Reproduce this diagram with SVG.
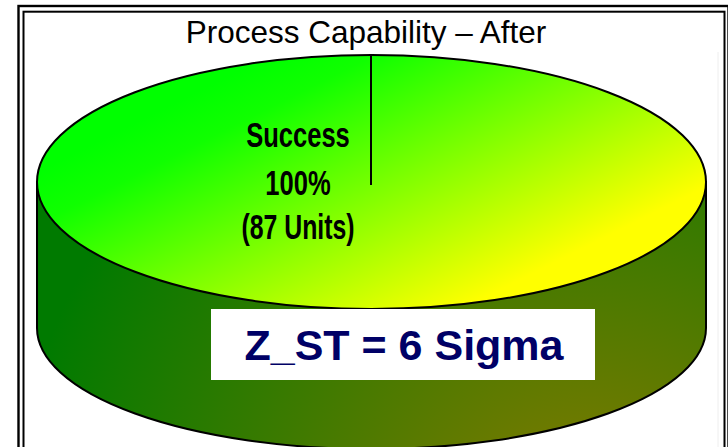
<svg xmlns="http://www.w3.org/2000/svg" width="728" height="447" viewBox="0 0 728 447">
  <style>
    .frame { fill: none; stroke: #000; }
    .outline { stroke: #000; stroke-width: 2; }
    .title { font-family: "Liberation Sans", Arial, sans-serif; font-size: 31.5px; fill: #000; }
    .lbl { font-family: "Liberation Sans", Arial, sans-serif; font-size: 35px; font-weight: bold; fill: #000; }
    .big { font-family: "Liberation Sans", Arial, sans-serif; font-size: 43px; font-weight: bold; fill: #000066; }
  </style>
  <defs>
    <linearGradient id="topGrad" gradientUnits="userSpaceOnUse" x1="300" y1="40" x2="440" y2="320">
      <stop offset="0" stop-color="#00ff00"/>
      <stop offset="0.15" stop-color="#10ff00"/>
      <stop offset="1" stop-color="#ffff00"/>
    </linearGradient>
    <radialGradient id="sideGrad" gradientUnits="userSpaceOnUse" cx="590" cy="550" r="580">
      <stop offset="0" stop-color="#8a7a00"/>
      <stop offset="1" stop-color="#007a00"/>
    </radialGradient>
  </defs>

  <rect x="0" y="0" width="728" height="447" fill="#fff"/>

  <g id="frame">
    <rect class="frame" x="18.5" y="6" width="710" height="460" stroke-width="2.4"/>
    <rect class="frame" x="23.5" y="11.7" width="701" height="450" stroke-width="2"/>
    <line x1="718" y1="52" x2="718" y2="447" stroke="#eeeeee" stroke-width="1"/>
  </g>

  <g id="title">
    <text class="title" x="366" y="42.5" text-anchor="middle">Process Capability – After</text>
  </g>

  <g id="pie">
    <path class="outline" fill="url(#sideGrad)" d="M37,182 L37,328 A334.5,121 0 0 0 706,328 L706,182 Z"/>
    <ellipse class="outline" fill="url(#topGrad)" cx="371.5" cy="182" rx="334.5" ry="127"/>
  </g>

  <g id="connectors">
    <line x1="371" y1="55" x2="371" y2="185" stroke="#000" stroke-width="2"/>
  </g>

  <g id="slice-label">
    <text class="lbl" text-anchor="middle" transform="translate(298,147) scale(0.73,1)">Success</text>
    <text class="lbl" text-anchor="middle" transform="translate(298,195) scale(0.73,1)">100%</text>
    <text class="lbl" text-anchor="middle" transform="translate(298,238.5) scale(0.71,1)">(87 Units)</text>
  </g>

  <g id="sigma-box">
    <rect x="211" y="309" width="384" height="71" fill="#fff"/>
    <text class="big" x="404" y="360" text-anchor="middle">Z_ST = 6 Sigma</text>
  </g>
</svg>
